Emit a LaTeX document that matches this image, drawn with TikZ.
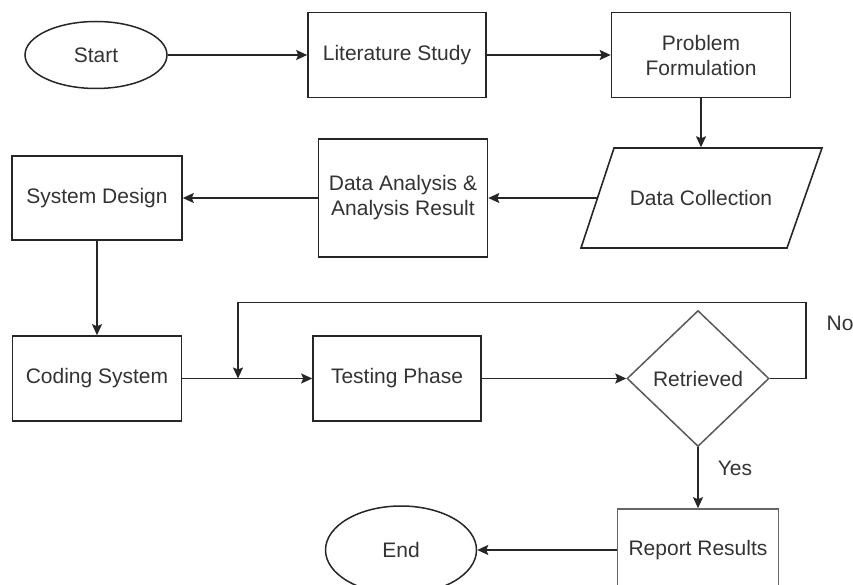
\documentclass[tikz,border=0pt]{standalone}
\usepackage{fontspec}
\setmainfont{Liberation Sans}
\usetikzlibrary{shapes.geometric,arrows.meta}

\begin{document}
\begin{tikzpicture}[x=1pt,y=-1pt,
	every node/.style={font=\fontsize{21}{25}\selectfont, text=black!80},
	proc/.style={draw=black!85, line width=1.6pt, rectangle, minimum width=178pt, minimum height=85pt, inner sep=0pt, align=center},
	term/.style={draw=black!85, line width=1.5pt, ellipse, inner sep=0pt},
	flow/.style={draw=black!85, line width=1.6pt, -{Stealth[length=11pt,width=10pt,inset=2pt]}}]

	\clip (0,0) rectangle (853,585);

	% top row
	\node[term, minimum width=142pt, minimum height=67pt] (start) at (96,55) {Start};
	\node[proc] (lit) at (397,55) {Literature Study};
	\node[proc, minimum width=179pt] (prob) at (701,55) {Problem\\Formulation};

	% second row
	\node[minimum width=208pt, minimum height=101pt, inner sep=0pt] (coll) at (701,198) {Data Collection};
	\draw[draw=black!85, line width=1.6pt, shift={(coll.center)}] (-120,50) -- (86,50) -- (121,-50) -- (-87,-50) -- cycle;
	\node[proc, minimum width=169pt, minimum height=118pt] (dana) at (403,198) {Data Analysis \&\\Analysis Result};
	\node[proc, minimum width=170pt, minimum height=84pt] (sysd) at (97,198) {System Design};

	% third row
	\node[proc, minimum width=169pt] (code) at (97,378.5) {Coding System};
	\node[proc, minimum width=168pt] (test) at (397,378.5) {Testing Phase};
	\node[draw=black!65, line width=1.5pt, diamond, minimum width=142pt, minimum height=136pt, inner sep=0pt] (ret) at (698,378.5) {Retrieved};
	\coordinate (j) at (238,378.5);

	% bottom row
	\node[proc, draw=black!60, minimum width=161pt, minimum height=82pt] (rep) at (698,550) {Report Results};
	\node[term, minimum width=151pt, minimum height=88pt] (end) at (401,550) {End};

	\node (no) at (840,323) {No};
	\node (yes) at (735,468) {Yes};

	\draw[flow] (start) -- (lit);
	\draw[flow] (lit) -- (prob);
	\draw[flow] (prob) -- (coll);
	\draw[flow] (coll) -- (dana);
	\draw[flow] (dana) -- (sysd);
	\draw[flow] (sysd) -- (code);
	\draw[flow] (code) -- (test);
	\draw[flow] (test) -- (ret);
	\draw[flow] (ret.east) -- ++(36,0) -- ++(0,-76) -| (j);
	\draw[flow] (ret) -- (rep);
	\draw[flow] (rep) -- (end);

\end{tikzpicture}
\end{document}
